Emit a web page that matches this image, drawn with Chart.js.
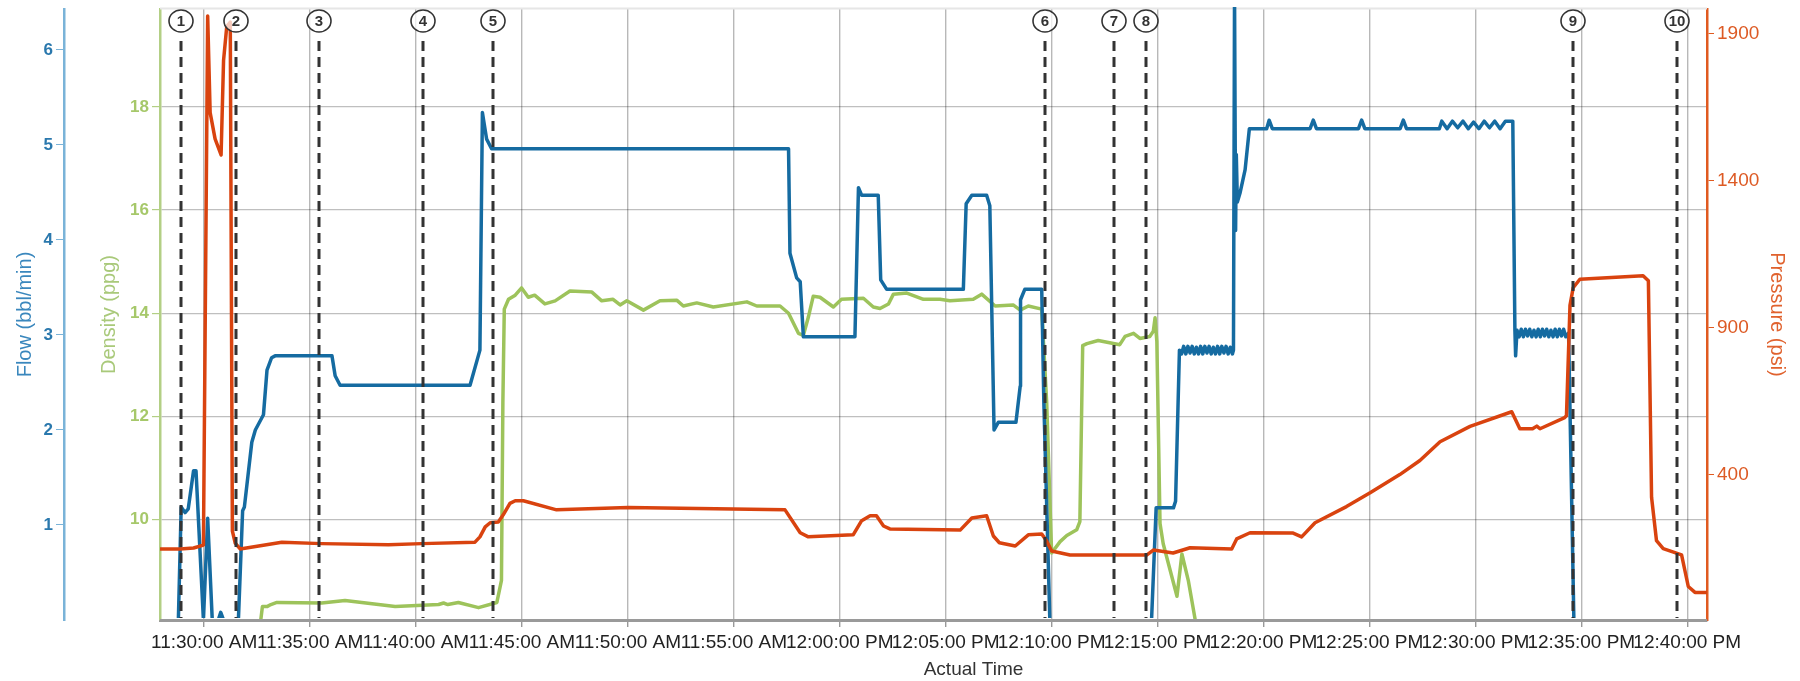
<!DOCTYPE html>
<html>
<head>
<meta charset="utf-8">
<script src="https://cdn.jsdelivr.net/npm/chart.js@4.4.1/dist/chart.umd.min.js"></script>
<style>
html,body{margin:0;padding:0;background:#fff;}
#c{display:block;}
</style>
</head>
<body>
<canvas id="c" width="1800" height="681"></canvas>
<script>
// ---------- DATA ----------
const xTickTimes = ["11:30:00","11:35:00","11:40:00","11:45:00","11:50:00","11:55:00","12:00:00",
  "12:05:00","12:10:00","12:15:00","12:20:00","12:25:00","12:30:00","12:35:00","12:40:00"];
const xRange = ["11:27:55","12:40:56"];

const flowTicks = [1,2,3,4,5,6];
const densityTicks = [10,12,14,16,18];
const pressureTicks = [400,900,1400,1900];

const flowTimes = ["11:28:00","11:28:47","11:28:55","11:29:06","11:29:15","11:29:30","11:29:37","11:29:58",
  "11:30:10","11:30:23","11:30:40","11:30:47","11:30:55","11:31:37","11:31:49","11:31:54","11:32:15","11:32:25",
  "11:32:48","11:32:58","11:33:11","11:33:21","11:36:02","11:36:11","11:36:25","11:42:33","11:43:01","11:43:08",
  "11:43:20","11:43:34","11:57:35","11:57:39","11:57:58","11:58:08","11:58:17","12:00:43","12:00:53","12:01:02",
  "12:01:49","12:01:56","12:02:13","12:05:50","12:05:58","12:06:14","12:06:56","12:07:05","12:07:17","12:07:29",
  "12:08:19","12:08:31","12:08:32","12:08:44","12:09:32","12:09:38","12:09:55","12:14:43","12:14:56","12:15:45",
  "12:15:51","12:16:02","12:16:08","12:16:14","12:16:20","12:16:26","12:16:32","12:16:38","12:16:44","12:16:50",
  "12:16:56","12:17:02","12:17:08","12:17:14","12:17:20","12:17:26","12:17:32","12:17:38","12:17:44","12:17:50",
  "12:17:56","12:18:02","12:18:08","12:18:14","12:18:20","12:18:26","12:18:32","12:18:35",
  "12:18:38","12:18:41","12:18:43","12:18:46","12:18:54","12:19:08","12:19:20","12:20:09",
  "12:20:16","12:20:25","12:22:12","12:22:21","12:22:30","12:24:29","12:24:38","12:24:47","12:26:27","12:26:36",
  "12:26:45","12:28:18","12:28:25","12:28:40","12:28:55","12:29:10","12:29:25","12:29:40","12:29:55","12:30:10",
  "12:30:25","12:30:40","12:30:55","12:31:10","12:31:25","12:31:46","12:31:52","12:31:54",
  "12:31:58","12:32:04","12:32:10","12:32:16","12:32:22","12:32:28","12:32:34","12:32:40","12:32:46","12:32:52",
  "12:32:58","12:33:04","12:33:10","12:33:16","12:33:22","12:33:28","12:33:34","12:33:40","12:33:46","12:33:52",
  "12:33:58","12:34:04","12:34:10","12:34:16","12:34:24","12:34:39"];
const flowValues = [0,0,1.19,1.13,1.17,1.57,1.57,0,
  1.07,0,0,0.08,0,0,1.15,1.19,1.87,2.0,
  2.16,2.63,2.76,2.78,2.78,2.57,2.47,2.47,2.84,5.34,
  5.06,4.96,4.96,3.86,3.6,3.56,2.98,2.98,4.55,4.47,
  4.47,3.58,3.48,3.48,4.38,4.47,4.47,4.36,2.0,2.08,
  2.08,2.46,3.37,3.48,3.48,2.29,0,0,1.18,1.18,
  1.25,2.84,2.80,2.88,2.80,2.88,2.81,2.88,2.80,2.87,
  2.80,2.88,2.80,2.88,2.81,2.88,2.80,2.87,2.80,2.88,
  2.80,2.88,2.81,2.88,2.80,2.87,2.80,2.84,
  6.6,4.1,4.9,4.4,4.5,4.74,5.17,5.17,
  5.26,5.17,5.17,5.26,5.17,5.17,5.26,5.17,5.17,5.26,
  5.17,5.17,5.25,5.17,5.25,5.18,5.25,5.17,5.24,5.17,
  5.25,5.18,5.25,5.17,5.25,5.25,3.05,2.78,
  3.05,2.98,3.06,2.98,3.06,2.99,3.06,2.98,3.05,2.98,
  3.06,2.98,3.06,2.99,3.06,2.98,3.05,2.98,3.06,2.98,
  3.06,2.99,3.06,2.98,3.02,0];

const densityTimes = ["11:32:36","11:32:45","11:32:58","11:33:09","11:33:26","11:35:33","11:36:39","11:39:01",
  "11:41:04","11:41:18","11:41:30","11:42:00","11:42:57","11:43:49","11:44:02","11:44:06","11:44:10","11:44:22",
  "11:44:41","11:44:59","11:45:18","11:45:36","11:46:05","11:46:34","11:47:16","11:48:18","11:48:46","11:49:18",
  "11:49:38","11:49:57","11:50:44","11:51:31","11:52:19","11:52:37","11:53:15","11:54:02","11:55:37","11:56:05",
  "11:57:11","11:57:35","11:58:03","11:58:17","11:58:31","11:58:45","11:59:04","11:59:42","12:00:05","12:01:07",
  "12:01:35","12:01:54","12:02:18","12:02:32","12:03:10","12:03:57","12:04:44","12:05:12","12:06:18","12:06:42",
  "12:07:20","12:08:11","12:08:31","12:08:54","12:09:32","12:09:46","12:10:00","12:10:24","12:10:43","12:11:11",
  "12:11:20","12:11:28","12:11:40","12:12:12","12:13:13","12:13:28","12:13:52","12:14:10","12:14:38","12:14:48",
  "12:14:53","12:14:58","12:15:07","12:15:16","12:15:55","12:16:09","12:16:27","12:16:46","12:16:54"];
const densityValues = [7.8,8.31,8.31,8.35,8.39,8.38,8.43,8.31,
  8.35,8.38,8.35,8.39,8.29,8.39,8.82,12.27,14.08,14.27,
  14.35,14.49,14.31,14.35,14.18,14.24,14.43,14.41,14.24,14.27,
  14.16,14.24,14.06,14.24,14.25,14.14,14.2,14.12,14.22,14.14,
  14.14,14.0,13.61,13.57,13.92,14.33,14.31,14.12,14.27,14.29,
  14.12,14.09,14.18,14.37,14.39,14.27,14.27,14.24,14.27,14.37,
  14.14,14.16,14.06,14.14,14.08,12.27,9.35,9.57,9.69,9.8,
  9.96,13.37,13.41,13.47,13.39,13.55,13.61,13.51,13.55,13.65,
  13.91,13.45,9.92,9.53,8.51,9.33,8.82,8.08,7.7];

const pressureTimes = ["11:27:55","11:28:52","11:29:30","11:29:58","11:30:10","11:30:17","11:30:31","11:30:48",
  "11:30:55","11:31:04","11:31:14","11:31:20","11:31:28","11:31:42","11:33:40","11:35:33","11:38:42","11:40:16",
  "11:42:47","11:43:01","11:43:16","11:43:30","11:43:53","11:44:07","11:44:26","11:44:41","11:45:04","11:46:38",
  "11:50:01","11:57:25","11:58:08","11:58:31","12:00:38","12:01:02","12:01:26","12:01:44","12:02:04","12:02:22",
  "12:05:41","12:06:14","12:06:56","12:07:15","12:07:32","12:08:17","12:08:54","12:09:32","12:09:46","12:10:00",
  "12:10:52","12:14:29","12:14:48","12:15:44","12:16:32","12:18:30","12:18:44","12:19:22","12:21:24","12:21:48",
  "12:22:26","12:23:55","12:25:02","12:26:26","12:27:23","12:28:20","12:29:45","12:31:43","12:32:06","12:32:42",
  "12:32:54","12:33:03","12:34:13","12:34:18","12:34:28","12:34:37","12:34:56","12:37:55","12:38:10","12:38:19",
  "12:38:33","12:38:52","12:39:44","12:40:03","12:40:22","12:40:56"];
const pressureValues = [147,147,150,160,1961,1632,1543,1488,
  1810,1925,1940,208,167,147,170,165,161,165,
  170,188,222,236,239,263,302,311,311,280,
  288,280,202,188,195,243,260,260,225,215,
  211,252,260,191,168,157,195,198,174,140,
  126,126,143,133,151,147,181,202,201,188,
  236,291,338,400,448,512,564,614,556,556,
  565,556,594,600,976,1036,1065,1077,1060,323,
  175,148,127,19,-1,-1];

const markerTimes = ["11:28:55","11:31:31","11:35:26","11:40:19","11:43:39","12:09:41","12:12:56","12:14:27","12:34:37","12:39:30"];
const markerLabels = ["1","2","3","4","5","6","7","8","9","10"];

// ---------- HELPERS ----------
function toSec(t){ const p=t.split(":").map(Number); return p[0]*3600+p[1]*60+p[2]; }
function fmtTime(sec){
  let h=Math.floor(sec/3600), m=Math.floor((sec%3600)/60), s=Math.round(sec%60);
  const ap = h>=12 ? "PM" : "AM";
  let hh = h%12; if(hh===0) hh=12;
  return hh+":"+String(m).padStart(2,"0")+":"+String(s).padStart(2,"0")+" "+ap;
}
function pts(times, vals){ return times.map((t,i)=>({x:toSec(t), y:vals[i]})); }

const FONT = "'Liberation Sans', Arial, sans-serif";
const C_FLOW = "#156ba1", C_DEN = "#9dc35b", C_PRES = "#d9430f";

const overlay = {
  id:"overlay",
  beforeDatasetsDraw(chart){
    const ctx = chart.ctx, a = chart.chartArea;
    ctx.save();
    ctx.strokeStyle = "#e6e6e6"; ctx.lineWidth = 2;
    ctx.beginPath(); ctx.moveTo(a.left, a.top-0.5); ctx.lineTo(a.right, a.top-0.5); ctx.stroke();
    ctx.restore();
  },
  afterDatasetsDraw(chart){
    const ctx = chart.ctx, xs = chart.scales.x, a = chart.chartArea;
    ctx.save();
    // bottom axis line over data
    ctx.strokeStyle = "#9a9a9a"; ctx.lineWidth = 3;
    ctx.beginPath(); ctx.moveTo(a.left, a.bottom+0.5); ctx.lineTo(a.right, a.bottom+0.5); ctx.stroke();
    markerTimes.forEach((t,i)=>{
      const x = Math.round(xs.getPixelForValue(toSec(t)));
      ctx.setLineDash([10,6]); ctx.lineWidth = 3; ctx.strokeStyle = "#333";
      ctx.beginPath(); ctx.moveTo(x, a.top+32); ctx.lineTo(x, a.bottom-2); ctx.stroke();
      ctx.setLineDash([]);
      ctx.beginPath(); ctx.ellipse(x, a.top+12, 12, 11, 0, 0, Math.PI*2);
      ctx.fillStyle = "rgba(255,255,255,0.72)"; ctx.fill();
      ctx.lineWidth = 1.6; ctx.strokeStyle = "#333"; ctx.stroke();
      ctx.fillStyle = "#333"; ctx.font = "bold 15px " + FONT;
      ctx.textAlign = "center"; ctx.textBaseline = "middle";
      ctx.fillText(markerLabels[i], x, a.top+13);
    });
    // x axis title
    ctx.fillStyle = "#333"; ctx.font = "19px " + FONT;
    ctx.textAlign = "center"; ctx.textBaseline = "middle";
    ctx.fillText("Actual Time", (a.left+a.right)/2 + 40, 670);
    ctx.restore();
  }
};

function setTicks(list){ return (scale)=>{ scale.ticks = list.map(v=>({value:v})); }; }
function fixSize(prop, size){ return (scale)=>{ scale[prop]=size; scale.paddingTop=0; scale.paddingBottom=0; scale.paddingLeft=0; scale.paddingRight=0; }; }

new Chart(document.getElementById("c"), {
  type:"line",
  data:{ datasets:[
    { label:"Pressure", data:pts(pressureTimes, pressureValues), yAxisID:"yP", borderColor:C_PRES, order:0 },
    { label:"Flow", data:pts(flowTimes, flowValues), yAxisID:"yFlow", borderColor:C_FLOW, order:1,
      clip:{ left:2, top:2, right:2, bottom:-2 } },
    { label:"Density", data:pts(densityTimes, densityValues), yAxisID:"yDen", borderColor:C_DEN, order:2 }
  ]},
  options:{
    responsive:false, animation:false, devicePixelRatio:1,
    parsing:false, normalized:true,
    layout:{ padding:{ top:9, left:0, right:0, bottom:0 } },
    elements:{ point:{ radius:0 }, line:{ borderWidth:3.5, tension:0, borderJoinStyle:"round", borderCapStyle:"round" } },
    plugins:{ legend:{ display:false }, tooltip:{ enabled:false } },
    scales:{
      x:{
        type:"linear", position:"bottom", min:toSec(xRange[0]), max:toSec(xRange[1]),
        afterBuildTicks:setTicks(xTickTimes.map(toSec)),
        afterFit:fixSize("height",61),
        ticks:{ callback:(v)=>fmtTime(v), color:"#222", font:{ family:FONT, size:19 }, padding:4,
                maxRotation:0, minRotation:0, autoSkip:false },
        grid:{ color:"rgba(0,0,0,0.28)", lineWidth:1.4, tickLength:7, tickColor:"#999" },
        border:{ display:true, color:"#9a9a9a", width:3 }
      },
      yFlow:{
        type:"linear", position:"left", weight:1, min:0, max:6.43,
        afterBuildTicks:setTicks(flowTicks),
        afterFit:fixSize("width",64),
        ticks:{ callback:(v)=>String(v), color:"#2a78ad", font:{ family:FONT, size:17, weight:"bold" }, padding:3 },
        grid:{ drawOnChartArea:false, tickLength:8, tickColor:"#7ab3d8" },
        border:{ display:true, color:"#7ab3d8", width:2.5 },
        title:{ display:true, text:"Flow (bbl/min)", color:"#3a87bd", font:{ family:FONT, size:20 }, padding:{ top:13, bottom:0 } }
      },
      yDen:{
        type:"linear", position:"left", weight:0, min:8.05, max:19.9,
        afterBuildTicks:setTicks(densityTicks),
        afterFit:fixSize("width",96),
        ticks:{ callback:(v)=>String(v), color:"#a6c86a", font:{ family:FONT, size:17, weight:"bold" }, padding:3 },
        grid:{ drawOnChartArea:true, color:"rgba(0,0,0,0.25)", lineWidth:1.2, tickLength:8, tickColor:"#b3cf85" },
        border:{ display:true, color:"#b3cf85", width:2.5 },
        title:{ display:true, text:"Density (ppg)", color:"#a9c97a", font:{ family:FONT, size:20 }, padding:{ top:33, bottom:0 } }
      },
      yP:{
        type:"linear", position:"right", min:-95, max:1985,
        afterBuildTicks:setTicks(pressureTicks),
        afterFit:fixSize("width",93),
        ticks:{ callback:(v)=>String(v), color:"#dd5a24", font:{ family:FONT, size:19 }, padding:3 },
        grid:{ drawOnChartArea:false, tickLength:7, tickColor:"#e05a20" },
        border:{ display:true, color:"#e05a20", width:2.5 },
        title:{ display:true, text:"Pressure (psi)", color:"#e0622e", font:{ family:FONT, size:20 }, padding:{ top:11, bottom:0 } }
      }
    }
  },
  plugins:[overlay]
});
</script>
</body>
</html>
